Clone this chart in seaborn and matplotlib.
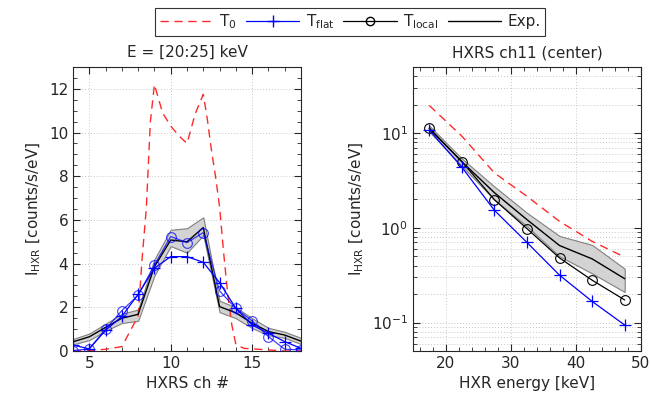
import numpy as np
import pandas as pd
import matplotlib
matplotlib.use("Agg")
import matplotlib.pyplot as plt
from matplotlib.lines import Line2D
from matplotlib.ticker import MultipleLocator, LogLocator, NullFormatter
import seaborn as sns

# ---------------- data: left panel (E = [20:25] keV) ----------------
ch = [4, 5, 6, 7, 8, 9, 10, 11, 12, 13, 14, 15, 16, 17, 18]
exp_ch = [0.42, 0.65, 1.08, 1.5, 1.68, 3.86, 5.08, 5.0, 5.65, 2.03, 1.75, 1.27, 0.89, 0.73, 0.45]
exp_ch_lo = [0.3, 0.5, 0.92, 1.28, 1.38, 3.45, 4.8, 4.5, 5.3, 1.78, 1.5, 1.05, 0.72, 0.6, 0.32]
exp_ch_hi = [0.55, 0.8, 1.25, 1.7, 1.9, 4.2, 5.55, 5.62, 6.12, 2.3, 2.0, 1.5, 1.06, 0.88, 0.6]
tlocal_ch = [0.02, 0.1, 1.0, 1.85, 2.55, 3.94, 5.24, 4.96, 5.42, 2.75, 1.95, 1.38, 0.66, 0.08, 0.05]
tflat_ch = [0.27, 0.1, 0.95, 1.58, 2.6, 3.79, 4.32, 4.32, 4.06, 3.13, 1.95, 1.19, 0.81, 0.43, 0.12]
t0_chx = [4, 5, 6, 7, 7.5, 8, 8.25, 8.5, 8.75, 9, 9.5, 10, 10.5, 11, 11.5, 12,
          12.25, 12.5, 12.75, 13, 13.25, 13.5, 13.75, 14, 14.5, 15, 16, 17, 18]
t0_ch = [0.0, 0.02, 0.08, 0.2, 0.9, 1.6, 4.3, 6.5, 10.5, 12.2, 10.9, 10.3, 9.85, 9.5, 10.85, 11.75,
         10.6, 9.2, 8.0, 6.6, 4.5, 2.6, 1.2, 0.3, 0.12, 0.1, 0.05, 0.0, 0.0]

# ---------------- data: right panel (HXRS ch11) ----------------
energy = [17.5, 22.5, 27.5, 32.5, 37.5, 42.5, 47.5]
t0_e = [19.6, 9.3, 3.8, 2.15, 1.17, 0.72, 0.49]
exp_e = [11.2, 5.0, 2.35, 1.22, 0.65, 0.47, 0.29]
exp_e_lo = [10.4, 4.5, 1.98, 1.04, 0.5, 0.33, 0.21]
exp_e_hi = [12.0, 5.4, 2.73, 1.44, 0.82, 0.66, 0.37]
tlocal_e = [11.3, 5.0, 1.98, 0.98, 0.48, 0.28, 0.173]
tflat_e = [10.8, 4.37, 1.53, 0.70, 0.316, 0.167, 0.094]

left_title = "E = [20:25] keV"
right_title = "HXRS ch11 (center)"
left_xlabel = "HXRS ch #"
right_xlabel = "HXR energy [keV]"
ylabel = r"I$_{\rm HXR}$ [counts/s/eV]"

sns.set_style("ticks")
plt.rcParams['font.family'] = ['DejaVu Sans']
plt.rcParams['mathtext.fontset'] = 'dejavusans'
FS = 11
TXT = '#262626'

fig = plt.figure(figsize=(6.51, 4.08), dpi=100)
axL = fig.add_axes([73/651, 57/408, 228/651, 284/408])
axR = fig.add_axes([413/651, 57/408, 228/651, 284/408])

RED = '#ff2a2a'
BLUE = '#0000ff'
DASH = (0, (6, 4))
PMS = 8

# ---- left panel ----
axL.fill_between(ch, exp_ch_lo, exp_ch_hi, color='#d3d3d3', edgecolor='#808080', linewidth=0.8, zorder=2)
sns.lineplot(x=t0_chx, y=t0_ch, ax=axL, color=RED, linestyle=DASH, linewidth=1.0, zorder=3)
sns.lineplot(x=ch, y=exp_ch, ax=axL, color='black', linewidth=1.0, zorder=4)
sns.lineplot(x=ch, y=tlocal_ch, ax=axL, color=BLUE, linewidth=0.9, marker='o', markersize=7,
             markerfacecolor='none', markeredgecolor=BLUE, markeredgewidth=0.8, alpha=0.75, zorder=5)
sns.lineplot(x=ch, y=tflat_ch, ax=axL, color=BLUE, linewidth=0.9, marker='+', markersize=PMS,
             markeredgecolor=BLUE, markeredgewidth=0.9, zorder=6)
axL.set_xlim(4, 18)
axL.set_ylim(0, 13)
axL.xaxis.set_major_locator(MultipleLocator(5))
axL.xaxis.set_minor_locator(MultipleLocator(1))
axL.yaxis.set_major_locator(MultipleLocator(2))
axL.yaxis.set_minor_locator(MultipleLocator(0.5))
axL.set_title(left_title, fontsize=FS, color=TXT, pad=7)
axL.set_xlabel(left_xlabel, fontsize=FS, color=TXT)
axL.set_ylabel(ylabel, fontsize=FS, color=TXT)

# ---- right panel ----
axR.fill_between(energy, exp_e_lo, exp_e_hi, color='#d3d3d3', edgecolor='#808080', linewidth=0.8, zorder=2)
sns.lineplot(x=energy, y=t0_e, ax=axR, color=RED, linestyle=DASH, linewidth=1.0, zorder=3)
sns.lineplot(x=energy, y=exp_e, ax=axR, color='black', linewidth=1.0, zorder=4)
sns.lineplot(x=energy, y=tlocal_e, ax=axR, color='black', linewidth=0.9, marker='o', markersize=7,
             markerfacecolor='none', markeredgecolor='black', markeredgewidth=0.8, zorder=5)
sns.lineplot(x=energy, y=tflat_e, ax=axR, color=BLUE, linewidth=0.9, marker='+', markersize=PMS,
             markeredgecolor=BLUE, markeredgewidth=0.9, zorder=6)
axR.set_yscale('log')
axR.set_xlim(15, 50)
axR.set_ylim(0.05, 50)
axR.xaxis.set_major_locator(MultipleLocator(10))
axR.xaxis.set_minor_locator(MultipleLocator(2))
axR.yaxis.set_major_locator(LogLocator(base=10, numticks=10))
axR.yaxis.set_minor_locator(LogLocator(base=10, subs=np.arange(2, 10), numticks=20))
axR.yaxis.set_minor_formatter(NullFormatter())
axR.set_title(right_title, fontsize=FS, color=TXT, pad=7)
axR.set_xlabel(right_xlabel, fontsize=FS, color=TXT)
axR.set_ylabel(ylabel, fontsize=FS, color=TXT)

for ax in (axL, axR):
    ax.grid(True, which='major', linestyle=(0, (1, 2)), color='#c8c8c8', linewidth=0.7, zorder=0)
    ax.tick_params(which='both', direction='in', top=True, right=True, labelsize=FS, labelcolor=TXT,
                   color='#262626')
    ax.tick_params(which='major', length=5)
    ax.tick_params(which='minor', length=3)
    for s in ax.spines.values():
        s.set_color('#262626')
        s.set_linewidth(0.8)
    ax.set_axisbelow(True)
axR.grid(True, which='minor', axis='y', linestyle=(0, (1, 2)), color='#c8c8c8', linewidth=0.7, zorder=0)

handles = [
    Line2D([], [], color=RED, linestyle=DASH, linewidth=1.0),
    Line2D([], [], color=BLUE, linewidth=0.9, marker='+', markersize=PMS, markeredgecolor=BLUE),
    Line2D([], [], color='black', linewidth=0.9, marker='o', markersize=6, markerfacecolor='none'),
    Line2D([], [], color='black', linewidth=1.0),
]
labels = [r"T$_0$", r"T$_{\rm flat}$", r"T$_{\rm local}$", "Exp."]
leg = fig.legend(handles, labels, loc='upper center', bbox_to_anchor=(350/651, 1.0), ncol=4,
                 frameon=True, fancybox=False, fontsize=FS, handlelength=3.5, columnspacing=0.6,
                 handletextpad=0.4, borderpad=0.3)
leg.get_frame().set_edgecolor('black')
leg.get_frame().set_linewidth(0.8)
for t in leg.get_texts():
    t.set_color(TXT)

fig.savefig("out.png", dpi=100)
